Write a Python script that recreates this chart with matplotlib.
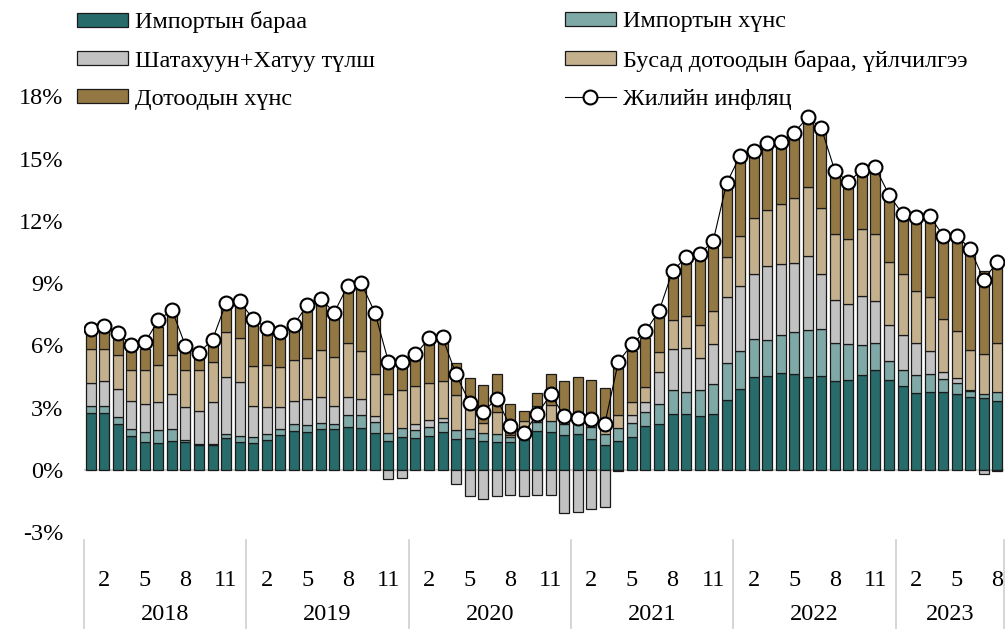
import numpy as np
import matplotlib.pyplot as plt
import matplotlib.transforms as mtransforms
from matplotlib.patches import Patch
from matplotlib.lines import Line2D

plt.rcParams['font.family'] = ['Liberation Serif', 'DejaVu Serif']

years = ['2018', '2019', '2020', '2021', '2022', '2023']
months = [m for y in range(6) for m in range(1, 13)][:68]

imp_goods = [2.72, 2.72, 2.20, 1.62, 1.35, 1.30, 1.39, 1.33, 1.20, 1.20, 1.52, 1.36,
             1.30, 1.44, 1.67, 1.86, 1.81, 1.96, 1.96, 2.07, 2.03, 1.78, 1.38, 1.57,
             1.54, 1.65, 1.83, 1.47, 1.52, 1.39, 1.35, 1.36, 1.47, 1.88, 1.84, 1.70,
             1.71, 1.47, 1.20, 1.38, 1.60, 2.10, 2.23, 2.71, 2.71, 2.60, 2.68, 3.37,
             3.91, 4.47, 4.52, 4.68, 4.63, 4.47, 4.52, 4.28, 4.34, 4.57, 4.81, 4.31,
             4.02, 3.72, 3.77, 3.74, 3.64, 3.51, 3.48, 3.32]
imp_food = [0.37, 0.37, 0.36, 0.37, 0.48, 0.61, 0.57, 0.11, 0.05, 0.05, 0.19, 0.27,
            0.27, 0.31, 0.32, 0.35, 0.34, 0.30, 0.27, 0.56, 0.60, 0.54, 0.41, 0.43,
            0.37, 0.43, 0.49, 0.44, 0.44, 0.37, 0.36, 0.23, 0.20, 0.43, 0.52, 0.52,
            0.48, 0.61, 0.55, 0.65, 0.67, 0.70, 0.93, 1.12, 1.04, 1.25, 1.44, 1.76,
            1.81, 1.83, 1.74, 1.84, 2.00, 2.28, 2.27, 1.84, 1.73, 1.44, 1.28, 0.93,
            0.81, 0.85, 0.86, 0.64, 0.53, 0.29, 0.16, 0.42]
fuel = [1.08, 1.19, 1.35, 1.33, 1.36, 1.37, 1.68, 1.59, 1.60, 2.02, 2.75, 2.60,
        1.52, 1.26, 1.02, 1.12, 1.26, 1.24, 0.86, 0.88, 0.77, 0.26, -0.45, -0.37,
        0.29, 0.31, 0.19, -0.69, -1.28, -1.41, -1.27, -1.22, -1.25, -1.22, -1.19, -2.08,
        -2.02, -1.89, -1.78, -0.05, 0.36, 0.48, 1.57, 1.97, 2.10, 1.55, 1.92, 3.20,
        3.16, 3.12, 3.56, 3.42, 3.36, 3.54, 2.67, 2.08, 1.90, 2.39, 2.05, 1.73,
        1.66, 1.54, 1.12, 0.32, 0.27, 0.05, -0.20, -0.05]
other = [1.63, 1.52, 1.60, 1.50, 1.62, 1.78, 1.89, 1.78, 1.96, 1.92, 2.17, 2.10,
         1.92, 2.02, 1.93, 1.96, 1.97, 2.28, 2.33, 2.58, 2.32, 2.05, 1.85, 1.85,
         1.84, 1.81, 1.77, 1.68, 0.96, 0.51, 1.09, 0.08, 0.69, 0.77, 0.75, 0.10,
         0.10, 0.10, 0.20, 0.60, 0.65, 0.71, 0.93, 1.40, 1.55, 1.57, 1.60, 1.92,
         2.40, 2.73, 2.71, 2.88, 3.10, 3.33, 3.15, 3.16, 3.15, 3.20, 3.24, 3.03,
         2.96, 2.50, 2.57, 2.55, 2.23, 1.92, 1.92, 2.35]
dom_food = [0.80, 0.88, 0.80, 0.90, 0.99, 1.83, 1.91, 0.91, 0.56, 0.82, 1.17, 1.55,
            1.99, 1.52, 1.42, 1.43, 2.28, 2.19, 1.90, 2.52, 2.97, 2.69, 1.31, 1.07,
            1.28, 1.84, 1.84, 1.55, 1.49, 1.82, 1.80, 1.49, 0.49, 0.61, 1.49, 1.96,
            2.18, 2.13, 2.01, 2.29, 2.47, 2.37, 1.71, 2.09, 2.57, 3.16, 3.08, 3.32,
            3.67, 2.95, 2.97, 2.72, 2.89, 3.08, 3.61, 2.77, 2.53, 2.61, 2.91, 3.01,
            2.65, 3.28, 3.62, 3.76, 4.34, 4.69, 4.01, 3.64]
inflation = [6.81, 6.91, 6.59, 6.01, 6.14, 7.20, 7.71, 5.98, 5.64, 6.27, 8.04, 8.12,
             7.27, 6.84, 6.63, 6.99, 7.93, 8.24, 7.58, 8.88, 8.98, 7.58, 5.22, 5.22,
             5.56, 6.33, 6.39, 4.60, 3.24, 2.79, 3.43, 2.12, 1.76, 2.68, 3.64, 2.58,
             2.52, 2.47, 2.23, 5.21, 6.04, 6.68, 7.64, 9.57, 10.24, 10.40, 11.01, 13.81,
             15.14, 15.34, 15.74, 15.80, 16.25, 16.99, 16.46, 14.41, 13.86, 14.46, 14.57, 13.25,
             12.33, 12.18, 12.25, 11.28, 11.28, 10.65, 9.17, 10.00]

series = [
    ('Импортын бараа', imp_goods, '#286b6b'),
    ('Импортын хүнс', imp_food, '#7fa9a7'),
    ('Шатахуун+Хатуу түлш', fuel, '#c2c2c2'),
    ('Бусад дотоодын бараа, үйлчилгээ', other, '#c4b08d'),
    ('Дотоодын хүнс', dom_food, '#947844'),
]

FS = 17.5

fig = plt.figure(figsize=(10.07, 6.29), dpi=100)
ax = fig.add_axes([0.0834, 0.154, 0.9136, 0.693])

x = np.arange(len(inflation))
pos = np.zeros(len(x))
neg = np.zeros(len(x))
handles = {}
for name, vals, col in series:
    v = np.array(vals)
    bottom = np.where(v >= 0, pos, neg)
    ax.bar(x, v, 0.74, bottom=bottom, color=col, edgecolor='#1a1a1a', linewidth=0.9, zorder=2)
    pos = pos + np.where(v >= 0, v, 0)
    neg = neg + np.where(v < 0, v, 0)
    handles[name] = Patch(facecolor=col, edgecolor='#1a1a1a', linewidth=0.9)

ax.plot(x, inflation, color='black', linewidth=0.8, marker='o', markersize=10,
        markerfacecolor='white', markeredgecolor='black', markeredgewidth=1.5, zorder=4)

ax.axhline(0, color='#d0d0d0', linewidth=1.6, zorder=1)
ax.set_xlim(-0.5, len(x) - 0.5)
ax.set_ylim(-3, 18)
ax.set_yticks(range(-3, 19, 3))
ax.set_yticklabels([f'{t}%' for t in range(-3, 19, 3)], fontsize=FS)
ax.tick_params(axis='y', length=0, pad=15)
ax.set_xticks([])
for s in ax.spines.values():
    s.set_visible(False)

tr = mtransforms.blended_transform_factory(ax.transData, ax.transAxes)
for i, m in enumerate(months):
    if m in (2, 5, 8, 11):
        ax.text(i, -0.112, str(m), transform=tr, ha='center', va='center', fontsize=FS)
for k, yr in enumerate(years):
    start = 12 * k - 0.5
    end = min(12 * k + 11.5, len(x) - 0.5)
    ax.text((start + end) / 2, -0.188, yr, transform=tr, ha='center', va='center', fontsize=FS)
    ax.plot([start, start], [-0.018, -0.23], transform=tr, color='#d0d0d0',
            linewidth=1.2, clip_on=False)
ax.plot([len(x) - 0.5] * 2, [-0.018, -0.23], transform=tr, color='#d0d0d0',
        linewidth=1.2, clip_on=False)

infl_handle = Line2D([], [], color='black', linewidth=0.8, marker='o', markersize=10,
                     markerfacecolor='white', markeredgecolor='black', markeredgewidth=1.5)

leg_kw = dict(frameon=False, fontsize=FS, handlelength=2.1, handleheight=0.5,
              handletextpad=0.3, labelspacing=0.71, borderaxespad=0, borderpad=0)
names = [s[0] for s in series]
fig.legend([handles[names[0]], handles[names[2]], handles[names[4]]],
           [names[0], names[2], names[4]], loc='upper left',
           bbox_to_anchor=(0.076, 0.982), **leg_kw)
fig.legend([handles[names[1]], handles[names[3]], infl_handle],
           [names[1], names[3], 'Жилийн инфляц'], loc='upper left',
           bbox_to_anchor=(0.561, 0.982), **leg_kw)

fig.savefig('out.png', dpi=100)
